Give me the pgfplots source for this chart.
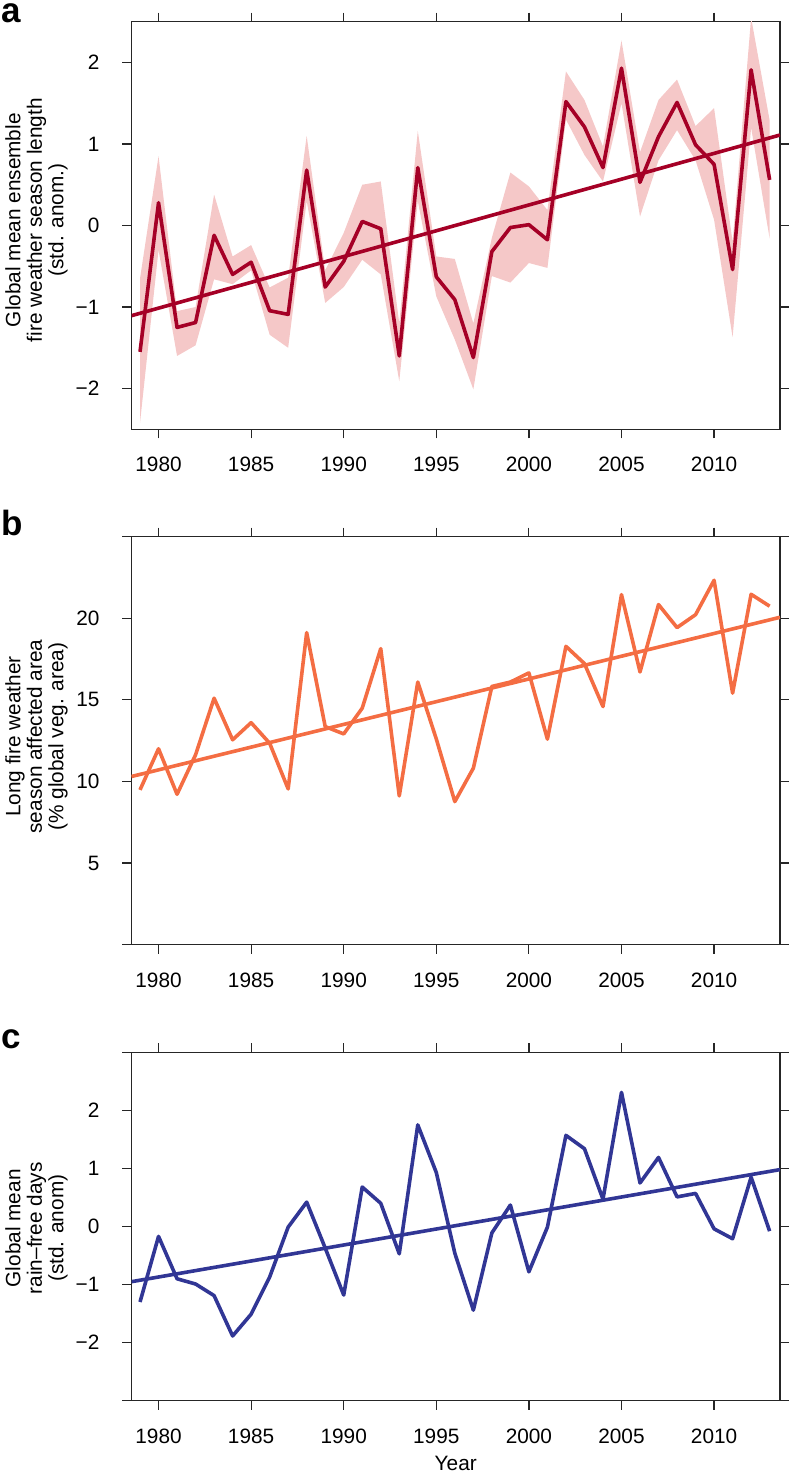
\documentclass[border=0pt]{standalone}
\usepackage{fontspec}
\setmainfont{Liberation Sans}
\usepackage{pgfplots}
\usepackage{pgfplotstable}
\pgfplotsset{compat=1.18}

\definecolor{ared}{HTML}{A50026}
\definecolor{aband}{HTML}{F5C8C8}
\definecolor{borange}{HTML}{F46D43}
\definecolor{cblue}{HTML}{313695}

\pgfplotstableread{
year mean
1979 -1.55
1980 0.28
1981 -1.25
1982 -1.19
1983 -0.12
1984 -0.60
1985 -0.45
1986 -1.045
1987 -1.09
1988 0.68
1989 -0.755
1990 -0.44
1991 0.05
1992 -0.04
1993 -1.60
1994 0.71
1995 -0.63
1996 -0.91
1997 -1.62
1998 -0.32
1999 -0.025
2000 0.01
2001 -0.175
2002 1.52
2003 1.21
2004 0.71
2005 1.93
2006 0.53
2007 1.09
2008 1.51
2009 0.99
2010 0.75
2011 -0.54
2012 1.91
2013 0.56
}\tabA

\pgfplotstableread{
year val
1979 9.48
1980 12.0
1981 9.21
1982 11.63
1983 15.1
1984 12.55
1985 13.6
1986 12.34
1987 9.54
1988 19.12
1989 13.36
1990 12.91
1991 14.49
1992 18.14
1993 9.11
1994 16.09
1995 12.6
1996 8.76
1997 10.81
1998 15.82
1999 16.09
2000 16.65
2001 12.59
2002 18.28
2003 17.22
2004 14.59
2005 21.45
2006 16.71
2007 20.84
2008 19.43
2009 20.22
2010 22.33
2011 15.41
2012 21.47
2013 20.74
}\tabB

\pgfplotstableread{
year val
1979 -1.30
1980 -0.17
1981 -0.90
1982 -0.99
1983 -1.19
1984 -1.885
1985 -1.51
1986 -0.87
1987 -0.01
1988 0.42
1989 -0.37
1990 -1.18
1991 0.68
1992 0.40
1993 -0.47
1994 1.75
1995 0.93
1996 -0.46
1997 -1.44
1998 -0.11
1999 0.37
2000 -0.78
2001 -0.01
2002 1.57
2003 1.34
2004 0.47
2005 2.31
2006 0.75
2007 1.19
2008 0.51
2009 0.57
2010 -0.04
2011 -0.21
2012 0.85
2013 -0.08
}\tabC

\pgfplotsset{
  panel/.style={
    scale only axis,
    width=324.25pt,
    anchor=south west,
    xmin=1978.54, xmax=2013.56,
    xtick={1980,1985,1990,1995,2000,2005,2010},
    xticklabels={1980,1985,1990,1995,2000,2005,2010},
    tick align=outside,
    major tick length=4.5pt,
    xtick pos=both, ytick pos=both,
    xticklabel pos=lower, yticklabel pos=left,
    axis line style={line width=0.6pt, black!85},
    every tick/.style={line width=0.6pt, black!85},
    tick label style={font=\fontsize{10.4}{12}\selectfont},
    xticklabel shift=6pt,
    yticklabel shift=8pt,
    every axis y label/.style={rotate=90, anchor=center, align=center, font=\fontsize{10.4}{10.8}\selectfont},
  },
}

\begin{document}
\begin{tikzpicture}
\useasboundingbox (0,0) rectangle (394pt,-736.5pt);

% Panel a
\begin{axis}[panel, at={(65.75pt,-214.65pt)}, height=203.8pt,
  ymin=-2.5, ymax=2.5,
  ytick={-2,-1,0,1,2}, yticklabels={−2,−1,0,1,2},
  ylabel={Global mean ensemble\\fire weather season length\\(std. anom.)},
  ylabel style={at={(axis description cs:-0.1465,0.513)}}]
  \addplot[fill=aband, draw=none] coordinates {
    (1979,-0.65)(1980,0.85)(1981,-1.05)(1982,-1.00)(1983,0.38)(1984,-0.38)(1985,-0.24)
    (1986,-0.76)(1987,-0.64)(1988,1.10)(1989,-0.55)(1990,-0.09)(1991,0.50)(1992,0.54)
    (1993,-1.20)(1994,1.16)(1995,-0.38)(1996,-0.41)(1997,-1.20)(1998,-0.15)(1999,0.65)
    (2000,0.48)(2001,0.19)(2002,1.89)(2003,1.54)(2004,0.97)(2005,2.27)(2006,0.90)
    (2007,1.54)(2008,1.79)(2009,1.22)(2010,1.44)(2011,-0.20)(2012,2.55)(2013,1.29)
    (2013,-0.16)(2012,1.20)(2011,-1.37)(2010,0.07)(2009,0.80)(2008,1.17)(2007,0.80)
    (2006,0.11)(2005,1.50)(2004,0.54)(2003,0.865)(2002,1.30)(2001,-0.52)(2000,-0.46)
    (1999,-0.70)(1998,-0.62)(1997,-2.01)(1996,-1.40)(1995,-0.87)(1994,0.30)(1993,-1.91)
    (1992,-0.60)(1991,-0.42)(1990,-0.755)(1989,-0.95)(1988,0.30)(1987,-1.50)(1986,-1.34)
    (1985,-0.55)(1984,-0.72)(1983,-0.66)(1982,-1.47)(1981,-1.60)(1980,-0.30)(1979,-2.42)
  };
  \addplot[ared, line width=1.8pt, line join=round] table[x=year, y=mean] {\tabA};
  \addplot[ared, line width=1.8pt] coordinates {(1978.54,-1.106) (2013.56,1.11)};
\end{axis}

% Panel b
\begin{axis}[panel, at={(65.75pt,-472.25pt)}, height=203.9pt,
  ymin=0, ymax=25,
  ytick={0,5,10,15,20,25}, yticklabels={,5,10,15,20,},
  ylabel={Long fire weather\\season affected area\\(\% global veg. area)},
  ylabel style={at={(axis description cs:-0.1465,0.51)}}]
  \addplot[borange, line width=1.8pt, line join=round] table[x=year, y=val] {\tabB};
  \addplot[borange, line width=1.8pt] coordinates {(1978.54,10.30) (2013.56,20.06)};
\end{axis}

% Panel c
\begin{axis}[panel, at={(65.75pt,-700.35pt)}, height=174.2pt,
  ymin=-3, ymax=3,
  ytick={-3,-2,-1,0,1,2,3}, yticklabels={,−2,−1,0,1,2,},
  ylabel={Global mean\\rain–free days\\(std. anom)},
  ylabel style={at={(axis description cs:-0.1465,0.495)}},
  xlabel={Year},
  xlabel style={at={(axis description cs:0.5,-0.199)}, anchor=base, font=\fontsize{10.4}{12}\selectfont}]
  \addplot[cblue, line width=1.8pt, line join=round] table[x=year, y=val] {\tabC};
  \addplot[cblue, line width=1.8pt] coordinates {(1978.54,-0.95) (2013.56,0.98)};
\end{axis}

\node[anchor=base west, inner sep=0pt, font=\fontsize{17.5}{20}\bfseries\selectfont] at (0.5pt,-11.4pt) {a};
\node[anchor=base west, inner sep=0pt, font=\fontsize{17.5}{20}\bfseries\selectfont] at (0.5pt,-267.5pt) {b};
\node[anchor=base west, inner sep=0pt, font=\fontsize{17.5}{20}\bfseries\selectfont] at (0.5pt,-524pt) {c};
\end{tikzpicture}
\end{document}
